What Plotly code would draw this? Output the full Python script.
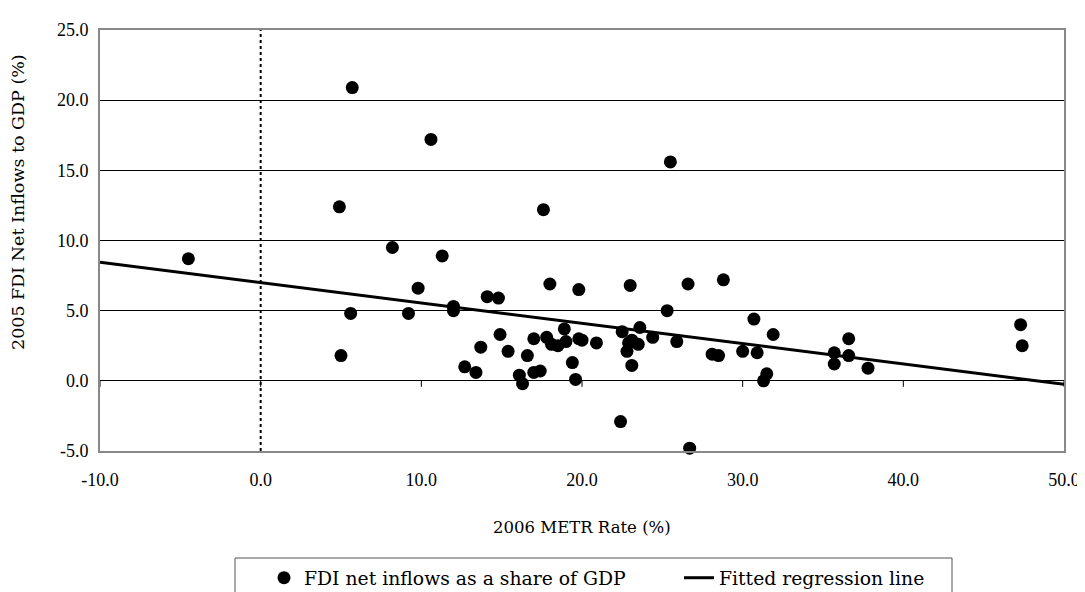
import plotly.graph_objects as go

# ---- data ----
metr_rate = [
    -4.5, 5.7, 4.9, 10.6, 8.2, 11.3, 5.0, 5.6, 9.2, 9.8,
    12.0, 12.0, 14.1, 14.8, 13.7, 12.7, 13.4, 17.6, 25.5, 18.0,
    19.8, 23.0, 26.6, 28.8, 25.3, 30.7, 31.9, 35.7, 35.7, 36.6,
    36.6, 37.8, 47.3, 47.4, 14.9, 15.4, 16.1, 16.3, 16.6, 17.0,
    17.0, 17.8, 18.1, 18.5, 18.9, 19.0, 19.4, 19.6, 19.8, 20.0,
    20.9, 22.4, 22.5, 22.8, 23.1, 23.1, 23.5, 23.6, 24.4, 25.9,
    26.7, 28.1, 28.5, 30.0, 30.9, 31.5, 31.3, 22.9, 17.4
]
fdi_share = [
    8.7, 20.9, 12.4, 17.2, 9.5, 8.9, 1.8, 4.8, 4.8, 6.6,
    5.3, 5.0, 6.0, 5.9, 2.4, 1.0, 0.6, 12.2, 15.6, 6.9,
    6.5, 6.8, 6.9, 7.2, 5.0, 4.4, 3.3, 2.0, 1.2, 3.0,
    1.8, 0.9, 4.0, 2.5, 3.3, 2.1, 0.4, -0.2, 1.8, 0.6,
    3.0, 3.1, 2.6, 2.5, 3.7, 2.8, 1.3, 0.1, 3.0, 2.9,
    2.7, -2.9, 3.5, 2.1, 1.1, 2.9, 2.6, 3.8, 3.1, 2.8,
    -4.8, 1.9, 1.8, 2.1, 2.0, 0.5, 0.0, 2.7, 0.7
]
reg_x = [-10.0, 50.0]
reg_y = [8.45, -0.25]

x_ticks = [-10, 0, 10, 20, 30, 40, 50]
x_tick_labels = ["-10.0", "0.0", "10.0", "20.0", "30.0", "40.0", "50.0"]
y_ticks = [-5, 0, 5, 10, 15, 20, 25]
y_tick_labels = ["-5.0", "0.0", "5.0", "10.0", "15.0", "20.0", "25.0"]

series_name = "FDI net inflows as a share of GDP"
line_name = "Fitted regression line"
x_title = "2006 METR Rate (%)"
y_title = "2005 FDI Net Inflows to GDP (%)"

TEXT_FONT = "DejaVu Serif"
TICK_FONT = "Liberation Serif"

fig = go.Figure()
fig.add_trace(go.Scatter(
    x=metr_rate, y=fdi_share, mode="markers", name=series_name,
    marker=dict(color="black", size=13), legend="legend", cliponaxis=False))
fig.add_trace(go.Scatter(
    x=reg_x, y=reg_y, mode="lines", name=line_name,
    line=dict(color="black", width=3), legend="legend2"))

# dotted vertical line at x = 0
fig.add_shape(type="line", xref="x", yref="y", x0=0, x1=0, y0=-5, y1=25,
              line=dict(color="black", width=2, dash="dot"), layer="above")
# small tick marks below the horizontal axis crossing at y = 0
for t in x_ticks:
    fig.add_shape(type="line", xref="x", yref="y", ysizemode="pixel", yanchor=0,
                  x0=t, x1=t, y0=0, y1=-6, line=dict(color="black", width=1))

# the page body has an 8px margin: the figure is sized to fit the window
def px_x(p):  # screen pixel -> paper x
    return (p - 100) / 964.0
def px_y(p):  # screen pixel -> paper y
    return (451 - p) / 421.0

# legend frame
fig.add_shape(type="rect", xref="paper", yref="paper",
              x0=px_x(235), x1=px_x(952), y0=px_y(600), y1=px_y(558),
              line=dict(color="#555555", width=1), fillcolor="rgba(0,0,0,0)")

fig.add_annotation(text=x_title, xref="paper", yref="paper", x=0.5, y=px_y(527),
                   xanchor="center", yanchor="middle", showarrow=False,
                   font=dict(family=TEXT_FONT, size=16.5, color="black"))
fig.add_annotation(text=y_title, xref="paper", yref="paper", x=px_x(18), y=px_y(202),
                   xanchor="center", yanchor="middle", showarrow=False, textangle=-90,
                   font=dict(family=TEXT_FONT, size=17.5, color="black"))

fig.update_layout(
    width=1077, height=584,
    margin=dict(l=92, r=21, t=22, b=141, autoexpand=False),
    paper_bgcolor="white", plot_bgcolor="white",
    showlegend=True,
    legend=dict(x=px_x(264), y=px_y(578), xanchor="left", yanchor="middle",
                orientation="h", bgcolor="rgba(0,0,0,0)", borderwidth=0,
                font=dict(family=TEXT_FONT, size=18.8, color="black")),
    legend2=dict(x=px_x(679), y=px_y(578), xanchor="left", yanchor="middle",
                 orientation="h", bgcolor="rgba(0,0,0,0)", borderwidth=0,
                 font=dict(family=TEXT_FONT, size=18.8, color="black")),
    xaxis=dict(range=[-10, 50], tickmode="array", tickvals=x_ticks,
               ticktext=x_tick_labels, showgrid=False, zeroline=False,
               showline=True, linecolor="#888888", linewidth=2, mirror=True,
               ticks="", ticklabelstandoff=11,
               tickfont=dict(family=TICK_FONT, size=18, color="black")),
    yaxis=dict(range=[-5, 25], tickmode="array", tickvals=y_ticks,
               ticktext=y_tick_labels, showgrid=True, gridcolor="black", gridwidth=1,
               zeroline=True, zerolinecolor="black", zerolinewidth=1,
               showline=True, linecolor="#888888", linewidth=2, mirror=True,
               ticks="", ticklabelstandoff=6,
               tickfont=dict(family=TICK_FONT, size=18, color="black")),
)

fig.write_html("out.html")
